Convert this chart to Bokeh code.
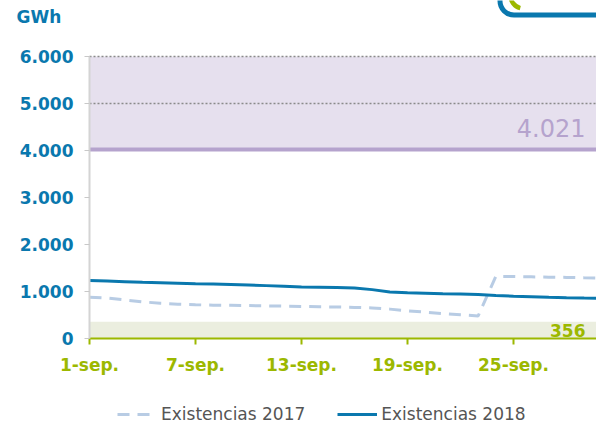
from bokeh.plotting import figure
from bokeh.models import Range1d, FixedTicker, BoxAnnotation, Legend, LegendItem
from bokeh.core.properties import value
from bokeh.embed import file_html
from bokeh.resources import INLINE
import math

# ---- data ----
days = list(range(1, 31))
existencias_2017 = [880, 860, 820, 780, 750, 730, 718, 710, 705, 700,
                    695, 688, 682, 675, 670, 662, 650, 625, 590, 560,
                    530, 505, 480, 1320, 1318, 1312, 1305, 1300, 1292, 1285]
existencias_2018 = [1235, 1225, 1210, 1195, 1185, 1175, 1165, 1160, 1150, 1140,
                    1125, 1110, 1095, 1090, 1085, 1075, 1040, 990, 972, 962,
                    952, 945, 938, 915, 900, 890, 878, 868, 860, 855]
x_ticks = [1, 7, 13, 19, 25]
x_tick_labels = ["1-sep.", "7-sep.", "13-sep.", "19-sep.", "25-sep."]
y_ticks = [0, 1000, 2000, 3000, 4000, 5000, 6000]
y_tick_labels = ["0", "1.000", "2.000", "3.000", "4.000", "5.000", "6.000"]
grid_ticks = [5000, 6000]
upper_level = 4021
upper_label = "4.021"
lower_level = 356
lower_label = "356"
unit_label = "GWh"
y_top = 6000

BLUE = "#0a78ae"
GREEN = "#9cb800"
LIGHT_BLUE = "#b8cce4"
PURPLE = "#b5a3cd"
FONT = "DejaVu Sans"

W, H = 596, 424
PLOT_LEFT, PLOT_TOP, PLOT_BOTTOM = 89, 56, 338
px_x = 106 / 6                                   # px per day
px_y = (PLOT_BOTTOM - PLOT_TOP) / y_top          # px per GWh
x0 = days[0]
x_start = x0 - PLOT_LEFT / px_x
x_end = x0 + (W - PLOT_LEFT) / px_x
y_start = -(H - PLOT_BOTTOM) / px_y
y_end = y_top + PLOT_TOP / px_y


def sx(px):
    return x_start + px / px_x


def sy(py):
    return y_end - py / px_y


p = figure(width=W, height=H, output_backend="svg", toolbar_location=None,
           x_range=Range1d(x_start, x_end), y_range=Range1d(y_start, y_end),
           min_border=0)
p.outline_line_color = None
p.background_fill_color = "white"
p.border_fill_color = "white"
p.grid.visible = False

# bands
p.add_layout(BoxAnnotation(left=x0, right=x_end, bottom=upper_level, top=y_top,
                           fill_color="#e6e0ee", fill_alpha=1, line_color=None,
                           level="image"))
p.add_layout(BoxAnnotation(left=x0, right=x_end, bottom=0, top=lower_level,
                           fill_color="#ebeedf", fill_alpha=1, line_color=None,
                           level="image"))

# logo fragment (top right corner)
p.add_layout(BoxAnnotation(left=sx(499.5), right=sx(640), bottom=sy(14.5),
                           top=sy(-40), fill_alpha=0, line_color=BLUE,
                           line_alpha=1, line_width=5, border_radius=14,
                           level="overlay"))
p.arc(x=[sx(523)], y=[sy(-5)], radius=13, radius_units="screen",
      start_angle=math.pi * 0.98, end_angle=math.pi * 1.42,
      line_color=GREEN, line_width=4.5)

# grid lines (dotted)
p.segment(x0=[x0] * len(grid_ticks), x1=[x_end] * len(grid_ticks),
          y0=grid_ticks, y1=grid_ticks, line_color="#8a8a8a",
          line_width=1.5, line_dash="2 2")
# upper reference line
p.segment(x0=[x0], x1=[x_end], y0=[upper_level], y1=[upper_level],
          line_color=PURPLE, line_width=4)

r17 = p.line(days, existencias_2017, line_color=LIGHT_BLUE, line_width=3,
             line_dash="12 8")
r18 = p.line(days, existencias_2018, line_color=BLUE, line_width=3)

# axes
p.yaxis.fixed_location = x0
p.yaxis.bounds = (0, y_top)
p.yaxis.ticker = FixedTicker(ticks=y_ticks)
p.yaxis.major_label_overrides = dict(zip(y_ticks, y_tick_labels))
p.yaxis.axis_line_color = "#d4d4d4"
p.yaxis.axis_line_width = 2
p.yaxis.major_tick_line_color = "#c8c8c8"
p.yaxis.major_tick_out = 5
p.yaxis.major_tick_in = 0
p.yaxis.minor_tick_line_color = None
p.yaxis.major_label_standoff = 11
p.yaxis.major_label_text_color = BLUE
p.yaxis.major_label_text_font = FONT
p.yaxis.major_label_text_font_style = "bold"
p.yaxis.major_label_text_font_size = "17px"

p.xaxis.fixed_location = 0
p.xaxis.bounds = (x0, x_end)
p.xaxis.ticker = FixedTicker(ticks=x_ticks)
p.xaxis.major_label_overrides = dict(zip(x_ticks, x_tick_labels))
p.xaxis.axis_line_color = GREEN
p.xaxis.axis_line_width = 2
p.xaxis.major_tick_line_color = GREEN
p.xaxis.major_tick_line_width = 2
p.xaxis.major_tick_out = 6
p.xaxis.major_tick_in = 0
p.xaxis.minor_tick_line_color = None
p.xaxis.major_label_standoff = 10
p.xaxis.major_label_text_color = GREEN
p.xaxis.major_label_text_font = FONT
p.xaxis.major_label_text_font_style = "bold"
p.xaxis.major_label_text_font_size = "17px"

# texts
p.text(x=[x0], y=[y_top], text=[unit_label], x_offset=-73, y_offset=-40,
       text_color=BLUE, text_font=value(FONT), text_font_style="bold",
       text_font_size="17px", text_align="left", text_baseline="middle")
p.text(x=[x_end], y=[upper_level], text=[upper_label], x_offset=-11,
       y_offset=-22, text_color=PURPLE, text_font=value(FONT),
       text_font_size="24px", text_align="right", text_baseline="middle")
p.text(x=[x_end], y=[0], text=[lower_label], x_offset=-11, y_offset=-8,
       text_color=GREEN, text_font=value(FONT), text_font_style="bold",
       text_font_size="17px", text_align="right", text_baseline="middle")

legend = Legend(items=[LegendItem(label="Existencias 2017", renderers=[r17]),
                       LegendItem(label="Existencias 2018", renderers=[r18])],
                location=(117, 0), orientation="horizontal",
                glyph_width=40, glyph_height=20, label_standoff=4, spacing=32,
                padding=0, margin=0, border_line_color=None,
                background_fill_alpha=0, label_text_font=FONT,
                label_text_font_size="17px", label_text_color="#555555")
p.add_layout(legend, "center")

open("out.html", "w").write(file_html(p, INLINE))
